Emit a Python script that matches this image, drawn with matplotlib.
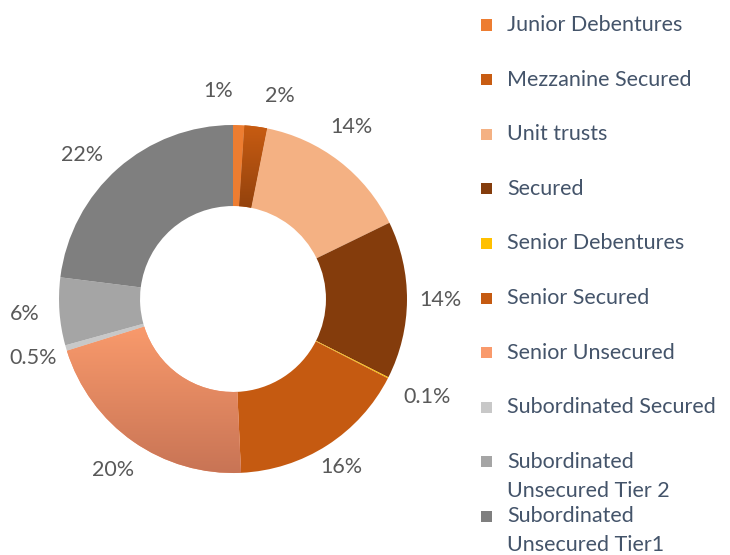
import numpy as np
import matplotlib
matplotlib.use("Agg")
import matplotlib.pyplot as plt
from matplotlib.colors import LinearSegmentedColormap
from matplotlib.patches import Rectangle

categories = [
    "Junior Debentures", "Mezzanine Secured", "Unit trusts", "Secured",
    "Senior Debentures", "Senior Secured", "Senior Unsecured",
    "Subordinated Secured", "Subordinated\nUnsecured Tier 2",
    "Subordinated\nUnsecured Tier1",
]
shares = [1, 2, 14, 14, 0.1, 16, 20, 0.5, 6, 22]
share_labels = ["1%", "2%", "14%", "14%", "0.1%", "16%", "20%", "0.5%", "6%", "22%"]

colors = ["#ED7D31", "#C55A11", "#F4B183", "#843C0C", "#FFC000",
          "#C55A11", "#F4956B", "#C8C8C8", "#A5A5A5", "#7F7F7F"]
gradients = {1: ("#C85C12", "#93420D"), 6: ("#F99A6C", "#C87455")}
# label placement tweaks (angle in degrees, radius) so small labels stay apart
label_nudge = {0: 6, 1: -5.5, 2: 3, 9: 5}
label_radius = {4: 1.25, 5: 1.15, 3: 1.19}

plt.rcParams["font.family"] = ["Lato", "DejaVu Sans"]
FS = 15.5
W, H = 730, 555
fig = plt.figure(figsize=(W / 100, H / 100), dpi=100)

cx, cy, R, lim = 233, 299, 174, 1.35
side = 2 * lim * R
ax = fig.add_axes([(cx - side / 2) / W, (H - cy - side / 2) / H, side / W, side / H])
ax.set_aspect("equal")
ax.axis("off")

wedges, _ = ax.pie(shares, colors=colors, startangle=90, counterclock=False,
                   radius=1, wedgeprops=dict(width=1 - 93.5 / 175, linewidth=0))

for i, (top, bot) in gradients.items():
    w = wedges[i]
    ext = w.get_path().get_extents()
    cmap = LinearSegmentedColormap.from_list("g%d" % i, [bot, top])
    grad = np.linspace(0, 1, 256).reshape(-1, 1)
    im = ax.imshow(grad, cmap=cmap, origin="lower", aspect="auto",
                   extent=[ext.x0, ext.x1, ext.y0, ext.y1], zorder=w.get_zorder() + 0.1)
    im.set_clip_path(w)
ax.set_xlim(-lim, lim)
ax.set_ylim(-lim, lim)

for i, w in enumerate(wedges):
    ang = np.deg2rad((w.theta1 + w.theta2) / 2 + label_nudge.get(i, 0))
    r = label_radius.get(i, 1.2)
    ax.text(r * np.cos(ang), r * np.sin(ang), share_labels[i],
            ha="center", va="center", fontsize=FS, color="#595959")

# legend drawn by hand so the swatch sits on the first text line
x_sw, x_txt, y0, step, line_h = 481, 507, 25, 54.6, 29
for i, name in enumerate(categories):
    y = y0 + step * i
    face = gradients[i][0] if i in gradients else colors[i]
    fig.patches.append(Rectangle((x_sw / W, (H - y - 5.5) / H), 11 / W, 11 / H,
                                 transform=fig.transFigure, facecolor=face,
                                 edgecolor="none"))
    for k, line in enumerate(name.split("\n")):
        fig.text(x_txt / W, (H - y - k * line_h) / H, line, ha="left", va="center",
                 fontsize=FS, color="#44546A")

fig.savefig("out.png", dpi=100)
